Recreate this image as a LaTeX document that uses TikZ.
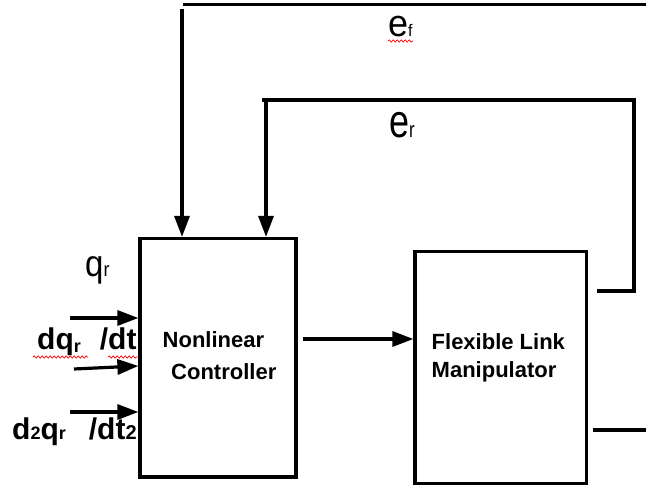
\documentclass[tikz,border=0pt]{standalone}
\usepackage{fontspec}
\setmainfont{Liberation Sans}
\usetikzlibrary{arrows.meta,decorations.pathmorphing}
\begin{document}
\begin{tikzpicture}[x=1pt,y=-1pt,
  ln/.style={line width=3.2pt},
  arr/.style={ln,-{Triangle[length=21pt,width=15pt]}},
  blk/.style={draw,ln,rectangle,inner sep=0pt},
  btxt/.style={font=\fontsize{22}{22}\selectfont\bfseries,inner sep=0pt,anchor=base west},
  lbl/.style={inner sep=0pt,anchor=base west},
  spell/.style={red,line width=0.7pt,decorate,decoration={snake,amplitude=1.1pt,segment length=4pt}},
]
\useasboundingbox (0,0) rectangle (646,486);
\fill[white] (0,0) rectangle (646,486);
% blocks
\node[blk,minimum width=156pt,minimum height=238.5pt] (ctrl) at (218,357.75) {};
\node[blk,minimum width=171.5pt,minimum height=232pt] (man) at (500.75,367.5) {};
\node[btxt] (c1) at (162.5,348) {Nonlinear};
\node[btxt] (c2) at (171,380) {Controller};
\node[btxt] (m1) at (431.5,350) {Flexible Link};
\node[btxt] (m2) at (431.5,378) {Manipulator};
% controller -> manipulator
\coordinate (a1) at (303,339);
\draw[arr] (a1) -- (a1 -| man.west);
% feedback e_f
\coordinate (ef0) at (646,4.5);
\coordinate (ef1) at (183,4.5);
\coordinate (ef2) at (182,9);
\draw[ln] (ef0) -- (ef1);
\draw[arr] (ef2) -- (ef2 |- ctrl.north);
% feedback e_r
\coordinate (er0) at (597,291);
\coordinate (er1) at (634,100);
\coordinate (er2) at (262,100);
\coordinate (er3) at (266,100);
\draw[ln] (er0) -| (er1) -- (er2);
\draw[arr] (er3) -- (er3 |- ctrl.north);
% output
\coordinate (o0) at (593,430);
\coordinate (o1) at (646,430);
\draw[ln] (o0) -- (o1);
% inputs
\coordinate (i1) at (70,318);
\coordinate (i2) at (74,369);
\coordinate (i3) at (70,412);
\draw[arr] (i1) -- (i1 -| ctrl.west);
\draw[arr] (i2) -- ([yshift=3pt]i2 -| ctrl.west);
\draw[arr] (i3) -- (i3 -| ctrl.west);
% labels
\node[lbl] (ef) at (388,37) {\scalebox{1}[1.05]{\fontsize{36}{36}\selectfont e\fontsize{16}{16}\selectfont f}};
\node[lbl] (er) at (389,138) {\scalebox{1}[1.3]{\fontsize{36}{36}\selectfont e\fontsize{17}{17}\selectfont r}};
\node[lbl] (qr) at (85,277) {\scalebox{1}[1.12]{\fontsize{33}{33}\selectfont q\fontsize{18}{18}\selectfont r}};
\node[lbl] (dq) at (37,350) {\bfseries\fontsize{30}{30}\selectfont dq\raisebox{-3pt}{\fontsize{18}{18}\selectfont r}\hspace{19pt}/dt};
\node[lbl] (ddq) at (12,440) {\bfseries\fontsize{30}{30}\selectfont d{\fontsize{18}{18}\selectfont 2}q{\fontsize{18}{18}\selectfont r}\hspace{23pt}/dt{\fontsize{20}{20}\selectfont 2}};
% spell-check marks
\draw[spell] (388,41) -- (413,41);
\draw[spell] (33,357) -- (88,357);
\draw[spell] (108,357) -- (138,357);
\end{tikzpicture}
\end{document}
